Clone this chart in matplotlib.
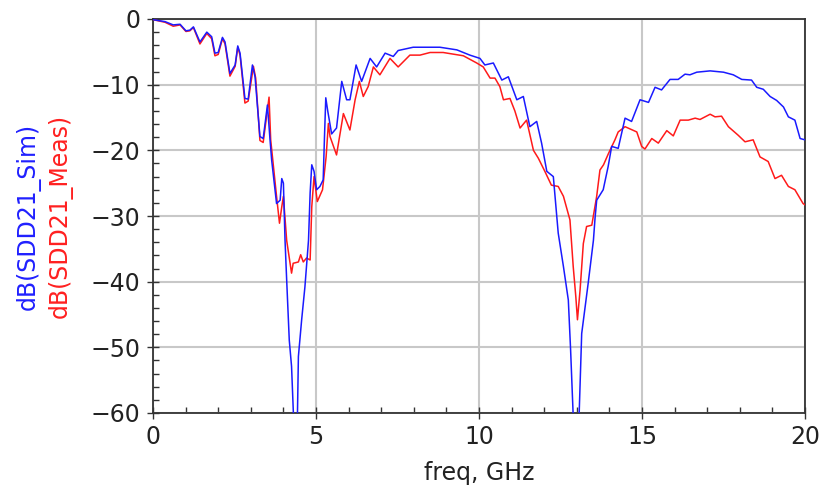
import numpy as np
import matplotlib
matplotlib.use("Agg")
import matplotlib.pyplot as plt

# simulated SDD21 (blue)
sim_freq = [0.0, 0.37, 0.62, 0.83, 1.01, 1.13, 1.24, 1.44, 1.65, 1.8, 1.9, 2.0, 2.13, 2.21,
            2.36, 2.52, 2.6, 2.67, 2.82, 2.92, 3.05, 3.13, 3.28, 3.38, 3.51, 3.59, 3.64,
            3.79, 3.9, 3.95, 4.0, 4.05, 4.1, 4.18, 4.25, 4.31, 4.37, 4.43, 4.46, 4.56,
            4.66, 4.77, 4.82, 4.87, 4.94, 5.02, 5.12, 5.22, 5.26, 5.3, 5.36, 5.48, 5.63,
            5.79, 5.94, 6.04, 6.23, 6.4, 6.66, 6.86, 7.12, 7.37, 7.52, 7.98, 8.8, 9.32,
            9.72, 10.03, 10.18, 10.44, 10.7, 10.9, 11.16, 11.36, 11.56, 11.77, 11.92,
            12.08, 12.28, 12.43, 12.59, 12.74, 12.81, 12.89, 12.98, 13.07, 13.15, 13.35,
            13.51, 13.56, 13.61, 13.81, 13.96, 14.07, 14.27, 14.48, 14.68, 14.94, 15.2,
            15.4, 15.6, 15.86, 16.11, 16.32, 16.47, 16.68, 17.09, 17.5, 17.8, 18.06,
            18.36, 18.52, 18.72, 18.93, 19.13, 19.34, 19.49, 19.69, 19.85, 20.0]
sim_db = [-0.1, -0.4, -0.9, -0.8, -1.8, -1.7, -1.2, -3.5, -2.0, -2.7, -5.2, -5.1, -2.8, -3.5,
          -8.3, -7.0, -4.1, -5.2, -12.1, -12.2, -7.0, -8.8, -17.9, -18.2, -13.1, -18.4, -21.5,
          -28.1, -27.6, -24.3, -25.0, -33.7, -39.7, -48.9, -52.9, -60.5, -64.0, -60.5, -51.4, -45.8,
          -40.8, -33.7, -26.5, -22.2, -23.2, -26.0, -25.5, -24.5, -18.0, -12.0, -14.0, -17.5, -16.6,
          -9.5, -12.3, -12.3, -7.0, -9.5, -6.0, -7.3, -5.2, -5.7, -4.8, -4.3, -4.3, -4.7,
          -5.5, -6.0, -7.0, -6.7, -9.3, -8.8, -12.3, -11.8, -16.4, -15.6, -18.9,
          -23.2, -24.0, -32.6, -37.7, -42.8, -50.4, -60.5, -64.0, -60.5, -47.9, -40.2,
          -33.7, -30.3, -27.6, -26.0, -22.5, -19.4, -19.7, -15.1, -15.6, -12.3, -12.7,
          -10.4, -10.8, -9.2, -9.2, -8.4, -8.5, -8.1, -7.9, -8.1, -8.5, -9.2,
          -9.3, -10.4, -10.7, -11.8, -12.4, -13.4, -14.9, -15.4, -18.2, -18.4]

# measured SDD21 (red)
meas_freq = [0.0, 0.37, 0.62, 0.83, 1.01, 1.13, 1.24, 1.44, 1.65, 1.8, 1.9, 2.0, 2.13, 2.21,
             2.36, 2.52, 2.6, 2.67, 2.82, 2.92, 3.08, 3.15, 3.28, 3.38, 3.56, 3.61, 3.79,
             3.88, 3.95, 4.0, 4.1, 4.25, 4.3, 4.46, 4.53, 4.61, 4.71, 4.82, 4.87, 4.94,
             5.04, 5.2, 5.31, 5.38, 5.43, 5.63, 5.84, 6.04, 6.2, 6.33, 6.45, 6.6, 6.76,
             6.96, 7.27, 7.52, 7.88, 8.19, 8.5, 8.9, 9.52, 9.93, 10.13, 10.34, 10.49,
             10.64, 10.75, 10.95, 11.1, 11.26, 11.46, 11.67, 11.82, 12.02, 12.22, 12.43,
             12.59, 12.79, 12.89, 12.97, 13.02, 13.1, 13.2, 13.3, 13.46, 13.61, 13.71,
             13.82, 13.97, 14.17, 14.27, 14.48, 14.84, 14.99, 15.09, 15.3, 15.5, 15.76,
             15.96, 16.17, 16.42, 16.63, 16.78, 17.09, 17.24, 17.44, 17.65, 17.95, 18.16,
             18.41, 18.62, 18.87, 19.08, 19.28, 19.49, 19.69, 19.94, 20.0]
meas_db = [-0.1, -0.5, -1.1, -0.9, -1.9, -1.8, -1.3, -3.8, -2.2, -3.0, -5.6, -5.4, -3.0, -3.8,
           -8.7, -7.2, -4.3, -5.5, -12.8, -12.5, -7.2, -9.0, -18.5, -18.8, -11.9, -18.4, -27.0,
           -31.1, -28.6, -27.0, -33.7, -38.7, -37.2, -37.0, -35.9, -37.0, -36.4, -36.7, -28.6, -24.0,
           -27.8, -26.0, -21.0, -15.9, -17.9, -20.7, -14.4, -16.9, -12.3, -9.5, -11.8, -10.3, -7.3,
           -8.5, -6.0, -7.3, -5.5, -5.5, -5.1, -5.1, -5.6, -6.7, -7.3, -9.0, -9.0,
           -10.3, -12.3, -12.1, -14.0, -16.6, -15.4, -20.0, -21.2, -23.2, -25.3, -25.5,
           -27.0, -30.6, -37.7, -42.3, -45.8, -41.3, -34.2, -31.6, -31.4, -27.0, -23.0,
           -22.2, -20.5, -18.4, -17.2, -16.4, -17.2, -19.4, -19.8, -18.2, -18.9, -17.0,
           -17.8, -15.4, -15.4, -15.1, -15.3, -14.5, -14.9, -14.8, -16.4, -17.7, -18.7,
           -18.4, -21.0, -21.7, -24.3, -23.8, -25.5, -26.0, -28.1, -28.3]

x_ticks = [0, 5, 10, 15, 20]
y_ticks = [0, -10, -20, -30, -40, -50, -60]

fig = plt.figure(figsize=(8.35, 4.99), dpi=100)
ax = fig.add_axes([153 / 835, 1 - 413 / 499, 652 / 835, 394 / 499])

ax.plot(meas_freq, meas_db, color="#ff1a1a", lw=1.1, zorder=3)
ax.plot(sim_freq, sim_db, color="#1a1aff", lw=1.1, zorder=4)

ax.set_xlim(0, 20)
ax.set_ylim(-60, 0)
ax.set_xticks(x_ticks)
ax.set_yticks(y_ticks)
ax.set_xticks(np.arange(0, 21, 1), minor=True)
ax.set_yticks(np.arange(-60, 1, 2), minor=True)
ax.grid(True, which="major", color="#c8c8c8", lw=1.5, zorder=0)

ax.tick_params(which="major", direction="inout", length=8, width=1, color="#333333",
               labelsize=17, labelcolor="#222222", pad=5)
ax.tick_params(which="minor", direction="in", length=4, width=1, color="#333333")
for s in ax.spines.values():
    s.set_color("#333333")
    s.set_linewidth(1.3)

ax.set_xlabel("freq, GHz", fontsize=17, color="#222222", labelpad=8)

fig.text(28 / 835, 1 - 216 / 499, "dB(SDD21_Sim)", rotation=90, color="#2020ff",
         fontsize=17, ha="center", va="center")
fig.text(60 / 835, 1 - 216 / 499, "dB(SDD21_Meas)", rotation=90, color="#ff2020",
         fontsize=17, ha="center", va="center")

fig.savefig("out.png", dpi=100)
